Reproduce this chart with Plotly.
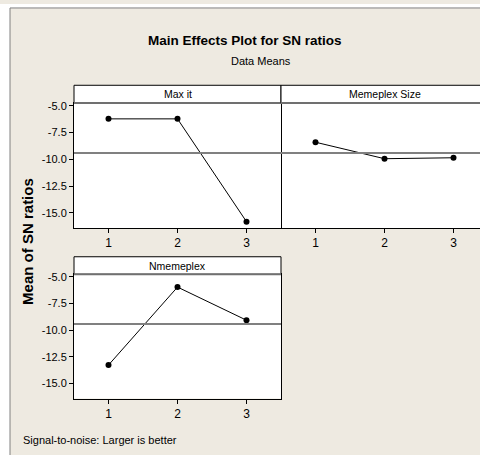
import plotly.graph_objects as go
import numpy as np

levels = [1, 2, 3]
factor_names = ["Max it", "Memeplex Size", "Nmemeplex"]
max_it = [-6.23, -6.23, -15.83]
memeplex_size = [-8.41, -9.95, -9.86]
nmemeplex = [-13.28, -5.96, -9.07]
ytick_vals = [-5.0, -7.5, -10.0, -12.5, -15.0]
ytick_text = ["-5.0", "-7.5", "-10.0", "-12.5", "-15.0"]

series = [max_it, memeplex_size, nmemeplex]
grand_mean = float(np.mean(max_it + memeplex_size + nmemeplex))

W, H = 480, 455
def fx(px): return px / W
def fy(py): return 1 - py / H

BEIGE = "#EEEAE1"
REG = "Liberation Sans, Arial"

fig = go.Figure()

panels = [
    dict(x0=74, x1=281, y0=100, y1=226, s0=82, xr=[0.5, 3.5], yt=True),
    dict(x0=281, x1=480, y0=100, y1=226, s0=82, xr=[0.5, 3.384], yt=False),
    dict(x0=74, x1=281, y0=272.7, y1=398, s0=255, xr=[0.5, 3.5], yt=True),
]
yr = [-16.42, -4.76]

for i, (p, vals) in enumerate(zip(panels, series)):
    n = "" if i == 0 else str(i + 1)
    fig.add_trace(go.Scatter(
        x=levels, y=vals, mode="lines+markers",
        line=dict(color="black", width=1),
        marker=dict(color="black", size=6),
        xaxis="x" + n, yaxis="y" + n, showlegend=False, cliponaxis=False,
        hoverinfo="skip"))
    fig.layout["xaxis" + n] = dict(
        domain=[fx(p["x0"]), fx(p["x1"])], range=p["xr"], anchor="y" + n,
        tickvals=levels, ticktext=[str(v) for v in levels],
        ticks="outside", ticklen=4, tickcolor="black", tickwidth=1,
        showline=True, linecolor="black", linewidth=1, mirror=(i != 1),
        showgrid=False, zeroline=False,
        tickfont=dict(family=REG, size=12, color="black"))
    fig.layout["yaxis" + n] = dict(
        domain=[fy(p["y1"]), fy(p["y0"])], range=yr, anchor="x" + n,
        tickvals=ytick_vals if p["yt"] else [], ticktext=ytick_text if p["yt"] else [],
        ticks="outside" if p["yt"] else "", ticklen=4, tickcolor="black", tickwidth=1,
        showticklabels=p["yt"],
        showline=(i != 1), linecolor="black", linewidth=1, mirror=True,
        showgrid=False, zeroline=False,
        tickfont=dict(family=REG, size=11, color="black"))
    fig.add_shape(type="line", xref="x" + n + " domain", yref="y" + n,
                  x0=0, x1=1, y0=grand_mean, y1=grand_mean,
                  line=dict(color="#808080", width=2), layer="above")
    sx1 = p["x1"] if i != 1 else 490
    fig.add_shape(type="rect", xref="paper", yref="paper",
                  x0=fx(p["x0"]), x1=fx(sx1), y0=fy(p["y0"]), y1=fy(p["s0"]),
                  fillcolor="white", line=dict(color="black", width=1), layer="above")
    fig.add_shape(type="line", xref="paper", yref="paper",
                  x0=fx(p["x0"]), x1=fx(sx1), y0=fy(p["y0"]), y1=fy(p["y0"]),
                  line=dict(color="#707070", width=2), layer="above")
    fig.add_annotation(xref="paper", yref="paper",
                       x=fx((p["x0"] + (p["x1"] if i != 1 else 488)) / 2),
                       y=fy((p["y0"] + p["s0"]) / 2),
                       text=factor_names[i], showarrow=False,
                       font=dict(family=REG, size=10.5, color="black"),
                       xanchor="center", yanchor="middle")

fig.add_shape(type="rect", xref="paper", yref="paper", x0=0, x1=fx(10), y0=0, y1=1,
              fillcolor="white", line=dict(width=0), layer="above")
fig.add_shape(type="rect", xref="paper", yref="paper", x0=0, x1=1, y0=fy(4), y1=1,
              fillcolor="white", line=dict(width=0), layer="above")
fig.add_shape(type="line", xref="paper", yref="paper", x0=fx(10), x1=fx(10), y0=0, y1=fy(4),
              line=dict(color="#808080", width=1), layer="above")
fig.add_shape(type="line", xref="paper", yref="paper", x0=fx(10), x1=1.01, y0=fy(4), y1=fy(4),
              line=dict(color="#808080", width=1), layer="above")

fig.add_annotation(xref="paper", yref="paper", x=fx(245), y=fy(37),
                   text="<b>Main Effects Plot for SN ratios</b>", showarrow=False,
                   font=dict(family=REG, size=13.5, color="black"),
                   xanchor="center", yanchor="middle")
fig.add_annotation(xref="paper", yref="paper", x=fx(261), y=fy(58),
                   text="Data Means", showarrow=False,
                   font=dict(family=REG, size=11, color="black"),
                   xanchor="center", yanchor="middle")
fig.add_annotation(xref="paper", yref="paper", x=fx(28), y=fy(240),
                   text="<b>Mean of SN ratios</b>", showarrow=False, textangle=-90,
                   font=dict(family=REG, size=15, color="black"),
                   xanchor="center", yanchor="middle")
fig.add_annotation(xref="paper", yref="paper", x=fx(21), y=fy(440),
                   text="Signal-to-noise: Larger is better", showarrow=False,
                   font=dict(family=REG, size=11, color="black"),
                   xanchor="left", yanchor="middle")

fig.update_layout(width=W, height=H, margin=dict(l=0, r=0, t=0, b=0),
                  paper_bgcolor=BEIGE, plot_bgcolor="white", autosize=False)

fig.write_html("out.html", config={"displayModeBar": False},
               post_script="document.body.style.margin='0';document.body.style.overflow='hidden';")
